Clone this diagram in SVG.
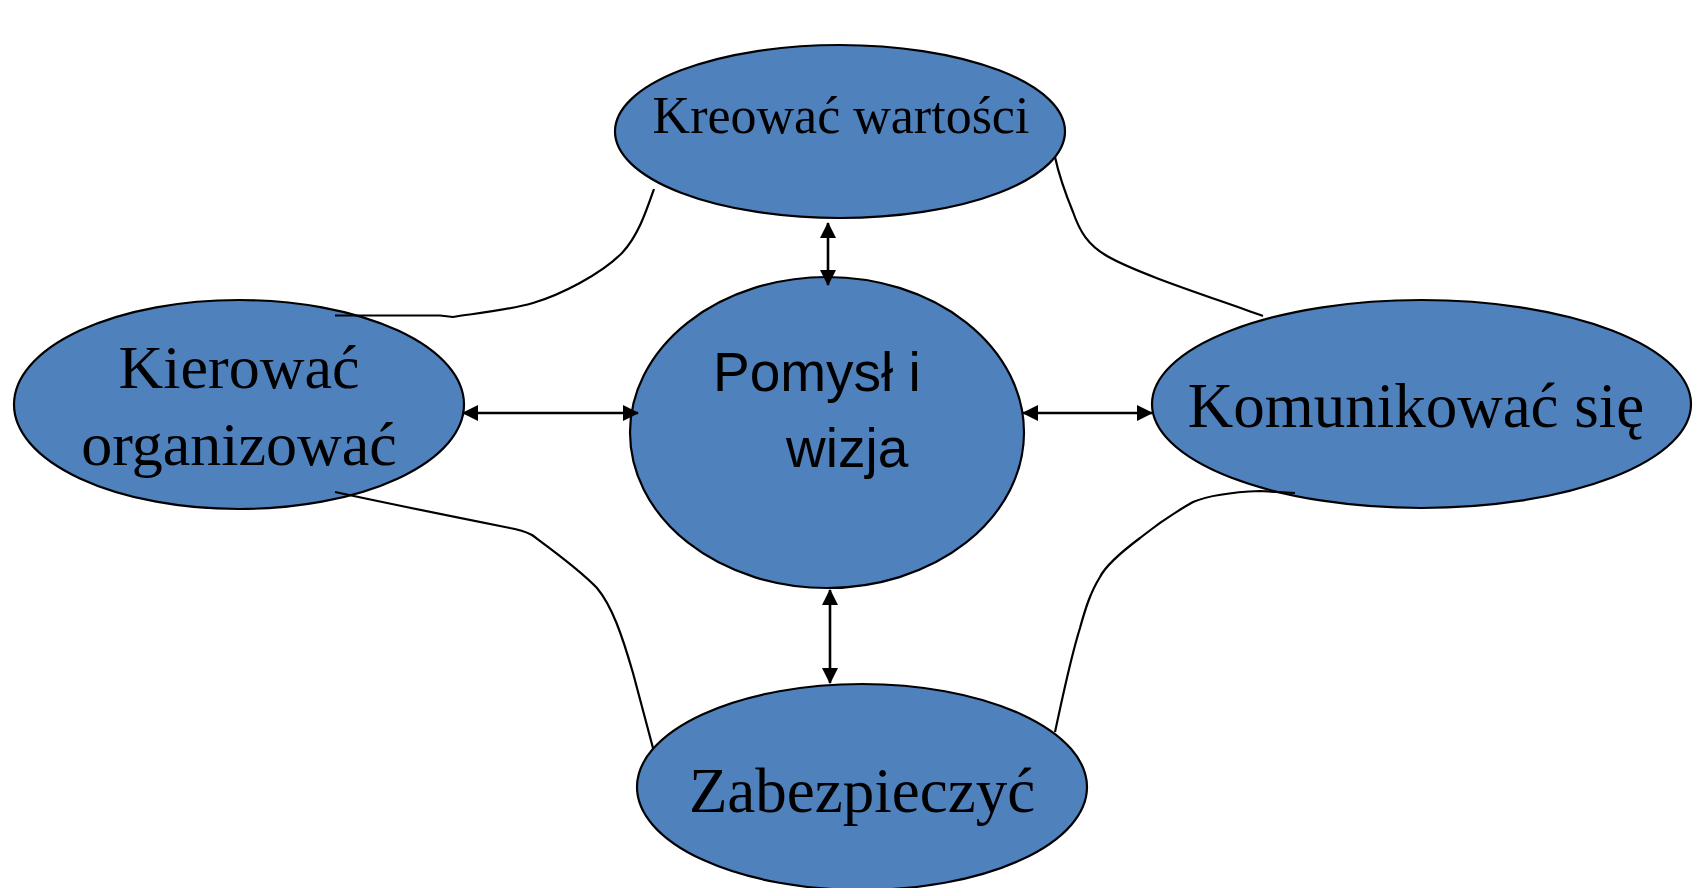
<svg xmlns="http://www.w3.org/2000/svg" width="1693" height="888" viewBox="0 0 1693 888">
<style>
.node{fill:#4F81BD;stroke:#000;stroke-width:2.2}
.serif{font-family:"Liberation Serif","Times New Roman",serif;fill:#000;text-anchor:middle}
.sans{font-family:"Liberation Sans",Arial,sans-serif;fill:#000}
.curve{fill:none;stroke:#000;stroke-width:2.2}
.arrow{fill:none;stroke:#000;stroke-width:2.6;marker-start:url(#ah);marker-end:url(#ah)}
</style>
<defs>
<marker id="ah" viewBox="0 0 16 16" refX="15" refY="8" markerWidth="16" markerHeight="16" markerUnits="userSpaceOnUse" orient="auto-start-reverse">
<path d="M0,0 L16,8 L0,16 Z" fill="#000"/>
</marker>
</defs>
<rect width="1693" height="888" fill="#fff"/>
<g id="node-kreowac">
<ellipse class="node" cx="840" cy="131.5" rx="225" ry="86.5"/>
<text class="serif" x="841" y="133" font-size="52">Kreować wartości</text>
</g>
<g id="node-pomysl">
<ellipse class="node" cx="827" cy="432.5" rx="197" ry="155.5"/>
<text class="sans" x="713" y="391" font-size="55">Pomysł i</text>
<text class="sans" x="786" y="467" font-size="55">wizja</text>
</g>
<g id="node-kierowac">
<ellipse class="node" cx="239" cy="404.5" rx="225" ry="104.5"/>
<text class="serif" x="239" y="388" font-size="62">Kierować</text>
<text class="serif" x="239" y="465" font-size="62">organizować</text>
</g>
<g id="node-komunikowac">
<ellipse class="node" cx="1421.5" cy="404" rx="269.5" ry="104"/>
<text class="serif" x="1416" y="427" font-size="63">Komunikować się</text>
</g>
<g id="node-zabezpieczyc">
<ellipse class="node" cx="862" cy="787" rx="225" ry="103"/>
<text class="serif" x="862" y="812" font-size="63">Zabezpieczyć</text>
</g>
<g id="connectors">
<path class="curve" d="M654,189 C646,212 638,236 622,253 C600,275 560,295 533,303 C505,311 470,314 453,317 L440,315.5 L335,315.5"/>
<path class="curve" d="M1055,157 C1060,180 1066,195 1073,212 C1080,232 1088,245 1107,256 C1140,275 1220,300 1263,316"/>
<path class="curve" d="M335,492 C400,506 470,520 510,528 Q522,530 532,535 C555,552 580,570 597,588 C612,606 622,635 633,673 C640,700 647,725 653,748"/>
<path class="curve" d="M1295,493 L1260,491 C1235,492 1212,494 1193,502 C1170,515 1150,530 1140,538 C1120,553 1105,567 1100,577 C1090,593 1085,610 1080,628 C1070,660 1062,700 1055,732"/>
<line class="arrow" x1="828" y1="223" x2="828" y2="285"/>
<line class="arrow" x1="463" y1="413" x2="638" y2="413"/>
<line class="arrow" x1="1023" y1="413" x2="1152" y2="413"/>
<line class="arrow" x1="830" y1="590" x2="830" y2="683"/>
</g>
</svg>
